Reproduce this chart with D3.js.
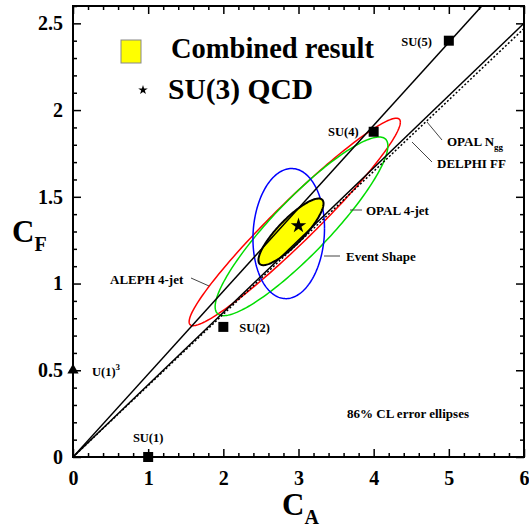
<!DOCTYPE html>
<html><head><meta charset="utf-8">
<script src="https://cdn.jsdelivr.net/npm/d3@7"></script>
<style>
html,body{margin:0;padding:0;background:#fff;}
text{font-family:"Liberation Serif","Times New Roman",serif;font-weight:bold;}
</style></head>
<body><svg id="c" width="529" height="527"></svg>
<script>
// ---- data ----
const xTicksMajor = [0,1,2,3,4,5,6];
const yTicksMajor = [0,0.5,1,1.5,2,2.5];
// SU(N) group points
const groupNames = ["SU(1)","SU(2)","SU(4)","SU(5)"];
const groupCA = [1,2,4,5];
const groupCF = [0,0.75,1.875,2.4];
const u1Name = "U(1)";
const u1CA = 0, u1CF = 0.5;
const qcdCA = 3, qcdCF = 4/3;
// constraint lines through origin: C_F / C_A slopes
const lineNames = ["steep","OPAL Ngg","DELPHI FF"];
const lineSlopes = [0.478,0.4167,0.4117];
// error ellipses (86% CL)
const ellNames = ["ALEPH 4-jet","OPAL 4-jet","Event Shape","Combined result"];
const ellCA = [2.95,3.04,2.87,2.90];
const ellCF = [1.355,1.33,1.288,1.298];
const ellSigCA = [1.405,1.149,0.476,0.433];
const ellSigCF = [0.598,0.515,0.375,0.192];
const ellRho = [0.962,0.90,0.08,0.85];
const ellColors = ["#ff0000","#00dd00","#0000ff","#000000"];

// ---- chart ----
const svg = d3.select("#c");
const x = d3.scaleLinear().domain([0,6]).range([73,524]);
const y = d3.scaleLinear().domain([0,2.6]).range([457,6]);
const fmt = d => String(d);
const xMinor = d3.range(0,6.001,0.2).filter(v=>Math.abs(v-Math.round(v))>1e-6);
const yMinor = d3.range(0,2.6001,0.1).filter(v=>Math.abs(v*2-Math.round(v*2))>1e-6);

svg.append("defs").append("clipPath").attr("id","clip")
  .append("rect").attr("x",73).attr("y",6).attr("width",451).attr("height",451);

// ellipses
function ellipsePts(i){
  const pts=[];
  const n=180;
  for(let k=0;k<=n;k++){
    const t=2*Math.PI*k/n;
    const ca=ellCA[i]+ellSigCA[i]*Math.cos(t);
    const cf=ellCF[i]+ellSigCF[i]*(ellRho[i]*Math.cos(t)+Math.sqrt(1-ellRho[i]*ellRho[i])*Math.sin(t));
    pts.push([ca,cf]);
  }
  return pts;
}
const lineGen = d3.line().x(d=>x(d[0])).y(d=>y(d[1]));
const gE = svg.append("g").attr("clip-path","url(#clip)");
[0,1,2].forEach(i=>{
  gE.append("path").attr("d",lineGen(ellipsePts(i))).attr("fill","none")
    .attr("stroke",ellColors[i]).attr("stroke-width",1.5);
});
gE.append("path").attr("d",lineGen(ellipsePts(3))).attr("fill","#ffff00")
  .attr("stroke","#000").attr("stroke-width",2);

// constraint lines
const gL = svg.append("g").attr("clip-path","url(#clip)");
lineSlopes.forEach((s,i)=>{
  gL.append("path").attr("d",lineGen([[0,0],[6,6*s]])).attr("fill","none")
    .attr("stroke","#000").attr("stroke-width",1.5)
    .attr("stroke-dasharray", i===2 ? "2,2" : null);
});

// axes
function axis(gen, tr, vals, size, labels, pad){
  const a = gen.tickValues(vals).tickSize(size).tickPadding(pad||3).tickFormat(labels?fmt:"");
  const g = svg.append("g").attr("transform",tr).call(a);
  g.select(".domain").remove();
  g.selectAll("line").attr("stroke","#000").attr("stroke-width",1.5);
  return g;
}
const gxb = axis(d3.axisBottom(x),"translate(0,457)",xTicksMajor,-8,true,14);
axis(d3.axisBottom(x),"translate(0,457)",xMinor,-4,false);
axis(d3.axisTop(x),"translate(0,6)",xTicksMajor,-8,false);
axis(d3.axisTop(x),"translate(0,6)",xMinor,-4,false);
const gyl = axis(d3.axisLeft(y),"translate(73,0)",yTicksMajor,-8,true,10);
axis(d3.axisLeft(y),"translate(73,0)",yMinor,-4,false);
axis(d3.axisRight(y),"translate(524,0)",yTicksMajor,-8,false);
axis(d3.axisRight(y),"translate(524,0)",yMinor,-4,false);
[gxb,gyl].forEach(g=>g.selectAll("text").attr("font-family","Liberation Serif").attr("font-weight","bold")
  .attr("font-size",20).attr("fill","#000"));
svg.append("rect").attr("x",73).attr("y",6).attr("width",451).attr("height",451)
  .attr("fill","none").attr("stroke","#000").attr("stroke-width",2);

// markers
const sq = d3.symbol(d3.symbolSquare).size(100);
groupCA.forEach((ca,i)=>{
  svg.append("path").attr("d",sq()).attr("transform",`translate(${x(ca)},${y(groupCF[i])})`).attr("fill","#000");
});
svg.append("path").attr("d",d3.symbol(d3.symbolTriangle).size(55)())
  .attr("transform",`translate(${x(u1CA)},${y(u1CF)})`).attr("fill","#000");
svg.append("path").attr("d",d3.symbol(d3.symbolStar).size(75)())
  .attr("transform",`translate(${x(qcdCA)},${y(qcdCF)})`).attr("fill","#000");

// labels
function txt(xp,yp,s,size,anchor,weight){
  return svg.append("text").attr("x",xp).attr("y",yp).attr("font-size",size)
    .attr("text-anchor",anchor||"start").attr("font-weight",weight||"bold").attr("fill","#000").text(s);
}
txt(x(groupCA[3])-17,46,groupNames[3],12.5,"end");
txt(x(groupCA[2])-15,136,groupNames[2],12.5,"end");
txt(x(groupCA[1])+16,332,groupNames[1],12.5,"start");
txt(x(groupCA[0]),442,groupNames[0],12.5,"middle");
const u1 = txt(92,376,u1Name,12.5,"start");
u1.append("tspan").attr("dy",-6).attr("font-size",9).text("3");
txt(408,418,"86% CL error ellipses",13,"middle");
txt(110,284,ellNames[0],13);
txt(366,215,ellNames[1],13);
txt(346,261,ellNames[2],13);
const on = txt(447,146,"OPAL N",13);
on.append("tspan").attr("dy",4).attr("font-size",9).text("gg");
txt(437,168,"DELPHI FF",13);

const leaders = [[191,278,209,286],[350,210,362,210],[324,256,340,256],[427,122,442,140],[412,142,432,162]];
leaders.forEach(l=>svg.append("line").attr("x1",l[0]).attr("y1",l[1]).attr("x2",l[2]).attr("y2",l[3])
  .attr("stroke","#444").attr("stroke-width",1));

// legend
svg.append("rect").attr("x",121).attr("y",40).attr("width",20).attr("height",23)
  .attr("fill","#ffff00").attr("stroke","#888").attr("stroke-width",1);
txt(171,58,ellNames[3],28.5);
svg.append("path").attr("d",d3.symbol(d3.symbolStar).size(28)()).attr("transform","translate(143,90)").attr("fill","#000");
txt(168,99,"SU(3) QCD",29.5);

// axis titles
const cf = txt(12,242,"C",31);
cf.append("tspan").attr("dy",9).attr("font-size",20).text("F");
const caT = txt(282,515,"C",31);
caT.append("tspan").attr("dy",9).attr("font-size",20).text("A");
</script></body></html>
